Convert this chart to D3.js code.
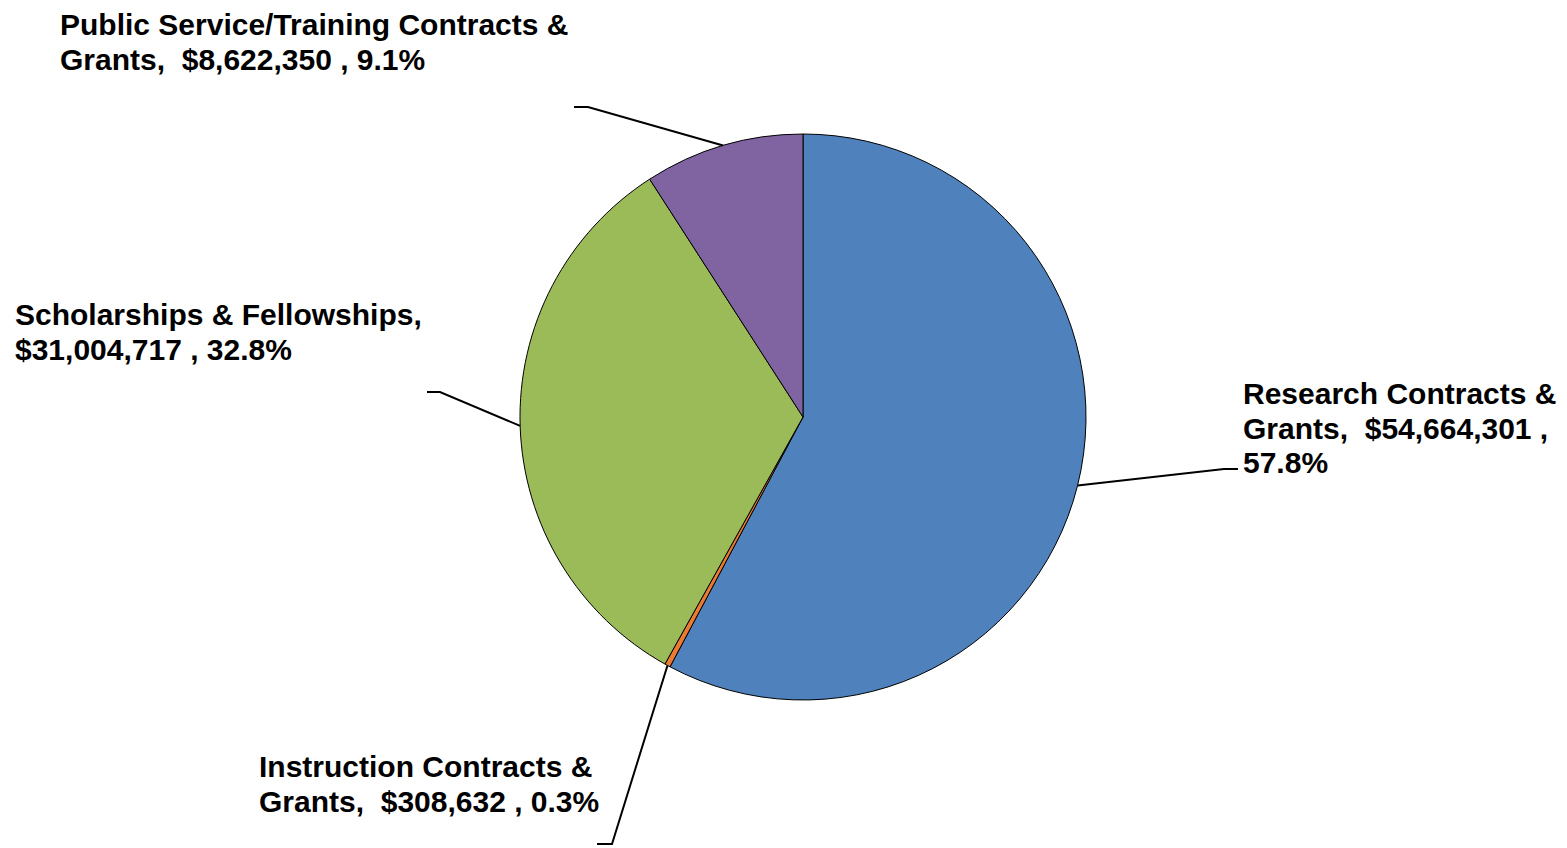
<!DOCTYPE html>
<html>
<head>
<meta charset="utf-8">
<script src="https://cdn.jsdelivr.net/npm/d3@7"></script>
<style>
  html, body { margin: 0; padding: 0; background: #fff; }
  svg { display: block; }
  .lbl { font-family: "Liberation Sans", Arial, sans-serif; font-weight: bold; font-size: 30px; fill: #000; white-space: pre; }
</style>
</head>
<body>
<svg id="chart" width="1567" height="848"></svg>
<script>
// Contracts & grants by category (dollars)
const categories = [
  "Research Contracts & Grants",
  "Instruction Contracts & Grants",
  "Scholarships & Fellowships",
  "Public Service/Training Contracts & Grants"
];
const amounts = [54664301, 308632, 31004717, 8622350];
const sliceColors = ["#4F81BD", "#EC7A32", "#9BBB59", "#8064A2"];

// Label placement: elbow of the leader line, text anchor, wrap width
const labelLayout = [
  { elbow: [1224, 469], end: [1238, 469], x: 1243, y: 404, wrap: 325 },
  { elbow: [612, 844],  end: [597, 844],  x: 259,  y: 777, wrap: 355 },
  { elbow: [440, 392],  end: [427, 392],  x: 15,   y: 325, wrap: 425 },
  { elbow: [588, 107],  end: [574, 107],  x: 60,   y: 35,  wrap: 525 }
];

const svg = d3.select("#chart");
const cx = 803, cy = 417, radius = 283;
const total = d3.sum(amounts);

const data = categories.map((c, i) => ({ name: c, value: amounts[i], color: sliceColors[i], layout: labelLayout[i] }));

const pie = d3.pie().sort(null).value(d => d.value).startAngle(0).endAngle(2 * Math.PI);
const arc = d3.arc().innerRadius(0).outerRadius(radius);
const arcs = pie(data);

const g = svg.append("g").attr("transform", `translate(${cx},${cy})`);

g.selectAll("path.slice")
  .data(arcs)
  .join("path")
  .attr("class", "slice")
  .attr("d", arc)
  .attr("fill", d => d.data.color)
  .attr("stroke", "#000")
  .attr("stroke-width", 1)
  .attr("stroke-linejoin", "round");

// Leader lines: from the slice's mid-angle on the rim to the label elbow
const fmtMoney = d3.format("$,");
const fmtPct = d3.format(".1%");

arcs.forEach(a => {
  const mid = (a.startAngle + a.endAngle) / 2;
  const sx = cx + radius * Math.sin(mid);
  const sy = cy - radius * Math.cos(mid);
  const L = a.data.layout;
  svg.append("polyline")
    .attr("points", [[sx, sy], L.elbow, L.end].map(p => p.join(",")).join(" "))
    .attr("fill", "none")
    .attr("stroke", "#000")
    .attr("stroke-width", 2);

  const text = `${a.data.name},  ${fmtMoney(a.data.value)} , ${fmtPct(a.data.value / total)}`;
  const t = svg.append("text").attr("class", "lbl").attr("x", L.x).attr("y", L.y);
  // greedy word wrap
  const tokens = text.split(" ");
  const lines = [];
  let cur = [];
  const probe = svg.append("text").attr("class", "lbl").attr("x", -9999).attr("y", -9999);
  tokens.forEach(tok => {
    const trial = cur.concat([tok]).join(" ").trim();
    probe.text(trial);
    if (cur.length && probe.node().getComputedTextLength() > L.wrap) {
      lines.push(cur.join(" ").trim());
      cur = [tok];
    } else {
      cur.push(tok);
    }
  });
  if (cur.length) lines.push(cur.join(" ").trim());
  probe.remove();
  lines.forEach((ln, i) => {
    t.append("tspan").attr("x", L.x).attr("dy", i === 0 ? 0 : 34.5).text(ln);
  });
});
</script>
</body>
</html>
